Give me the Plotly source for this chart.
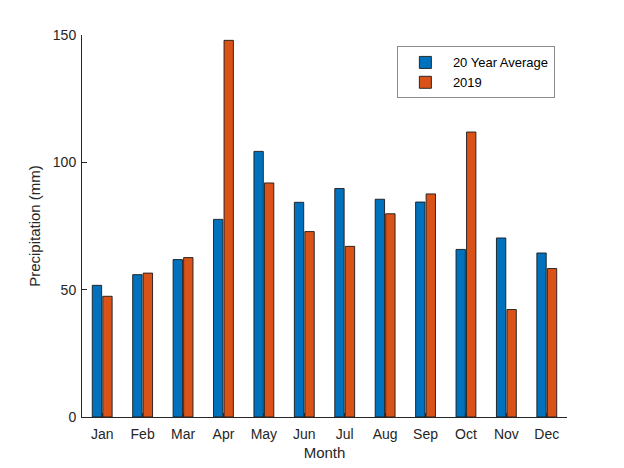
import plotly.graph_objects as go

# monthly precipitation (mm)
months = ["Jan", "Feb", "Mar", "Apr", "May", "Jun",
          "Jul", "Aug", "Sep", "Oct", "Nov", "Dec"]
avg_20yr = [51.7, 55.9, 61.8, 77.6, 104.3, 84.3, 89.7, 85.5, 84.4, 65.8, 70.3, 64.4]
year_2019 = [47.4, 56.5, 62.6, 147.9, 91.9, 72.8, 67.0, 79.8, 87.6, 111.9, 42.2, 58.3]

text_col = "#262626"
font = "Liberation Sans, Arial, Helvetica, sans-serif"

fig = go.Figure()
fig.add_trace(go.Bar(x=months, y=avg_20yr, name="20 Year Average",
                     marker=dict(color="#0072BD", line=dict(color="#1a1a1a", width=0.9))))
fig.add_trace(go.Bar(x=months, y=year_2019, name="2019",
                     marker=dict(color="#D95319", line=dict(color="#1a1a1a", width=0.9))))

# page body adds an 8px offset, so margins are shifted to compensate
fig.update_layout(
    width=624, height=468,
    margin=dict(l=74, r=65, t=27, b=59),
    paper_bgcolor="white", plot_bgcolor="white",
    font=dict(family=font, size=14, color=text_col),
    barmode="group", bargap=0.48, bargroupgap=0.11,
    legend=dict(x=0.975, y=0.97, xanchor="right", yanchor="top",
                bgcolor="white", bordercolor="#8c8c8c", borderwidth=1,
                font=dict(size=13, color="black"), tracegroupgap=0,
                itemwidth=45),
)
fig.update_xaxes(
    title=dict(text="Month", font=dict(size=15), standoff=6),
    showline=True, linecolor=text_col, linewidth=1,
    ticks="inside", ticklen=4, tickcolor=text_col, ticklabelstandoff=4,
    showgrid=False, zeroline=False,
)
fig.update_yaxes(
    title=dict(text="Precipitation (mm)", font=dict(size=15), standoff=8),
    range=[0, 150], tickvals=[0, 50, 100, 150],
    showline=True, linecolor=text_col, linewidth=1,
    ticks="inside", ticklen=5, tickcolor=text_col, ticklabelstandoff=2,
    showgrid=False, zeroline=False,
)

fig.write_html("out.html")
